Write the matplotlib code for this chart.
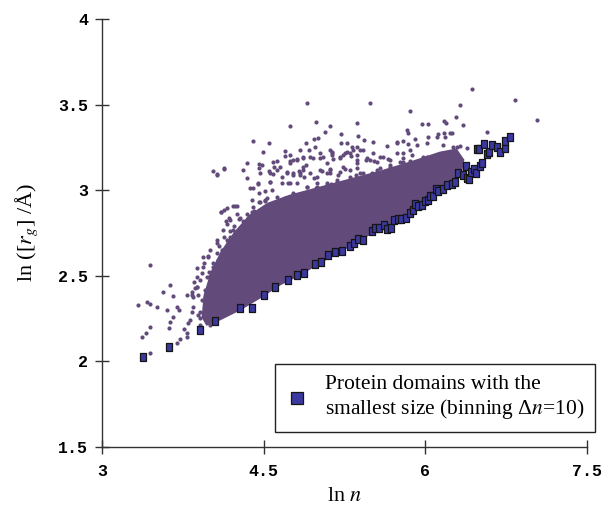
import matplotlib
matplotlib.use("Agg")
import matplotlib.pyplot as plt
from matplotlib.lines import Line2D

plt.rcParams['mathtext.fontset'] = 'stix'

# smallest domain per size bin (binning dn = 10)
bin_ln_n = [3.378, 3.624, 3.912, 4.046, 4.283, 4.389, 4.500, 4.602, 4.723, 4.806,
            4.871, 4.979, 5.029, 5.094, 5.162, 5.231, 5.301, 5.338, 5.375, 5.422,
            5.505, 5.530, 5.567, 5.614, 5.644, 5.684, 5.709, 5.749, 5.777, 5.818,
            5.858, 5.883, 5.904, 5.929, 5.966, 5.997, 6.022, 6.046, 6.071, 6.096,
            6.117, 6.161, 6.201, 6.247, 6.272, 6.306, 6.349, 6.374, 6.384, 6.408,
            6.424, 6.451, 6.467, 6.504, 6.529, 6.477, 6.498, 6.547, 6.569, 6.591,
            6.618, 6.665, 6.693, 6.736, 6.742, 6.786]
bin_ln_rg = [2.027, 2.082, 2.185, 2.238, 2.314, 2.314, 2.390, 2.436, 2.475, 2.506,
             2.518, 2.571, 2.582, 2.619, 2.639, 2.645, 2.676, 2.692, 2.715, 2.709,
             2.762, 2.779, 2.777, 2.795, 2.773, 2.781, 2.828, 2.830, 2.834, 2.839,
             2.865, 2.883, 2.921, 2.908, 2.912, 2.939, 2.943, 2.964, 2.968, 3.007,
             2.995, 3.009, 3.030, 3.034, 3.048, 3.102, 3.089, 3.141, 3.073, 3.064,
             3.108, 3.124, 3.102, 3.143, 3.157, 3.241, 3.241, 3.270, 3.211, 3.225,
             3.264, 3.254, 3.225, 3.245, 3.287, 3.311]

# individual domains outside the solid core
dom_ln_n = [4.899, 4.744, 4.988, 5.118, 5.369, 5.066, 5.007, 4.970, 5.217, 4.401,
            4.549, 4.890, 5.217, 5.270, 4.491, 4.695, 4.921, 5.137, 5.270, 5.369,
            4.027, 4.064, 4.132, 4.308, 4.348, 4.348, 4.454, 4.487, 4.454, 4.549,
            4.599, 4.621, 4.695, 4.747, 4.809, 4.862, 4.890, 5.020, 4.958, 5.085,
            5.146, 5.208, 5.307, 5.255, 5.115, 5.044, 4.828, 4.716, 4.587, 4.667,
            4.769, 4.871, 4.964, 5.190, 5.357, 4.398, 4.454, 4.515, 4.577, 4.806,
            4.985, 5.122, 5.282, 4.218, 4.250, 4.101, 4.135, 4.181, 4.150, 4.222,
            4.271, 4.345, 4.413, 4.454, 4.515, 4.589, 4.355, 4.290, 4.190, 4.132,
            4.166, 4.088, 3.986, 3.445, 3.949, 3.879, 3.925, 4.002,
            6.433, 6.832, 5.489, 6.319, 5.855, 7.033, 6.284, 6.176, 6.192, 5.966,
            6.022, 6.349, 5.827, 5.836, 6.569, 5.372, 6.120, 6.176, 6.245, 6.027,
            6.185, 5.901, 5.428, 5.517, 5.734, 5.795, 5.842, 6.013, 5.641, 5.925,
            6.259, 6.322, 6.384, 5.424, 5.326, 5.255, 5.579, 5.656, 5.795, 5.873,
            6.013, 5.134, 5.363, 5.449, 5.526, 5.765, 5.858, 5.981, 6.043, 5.363,
            5.579, 5.672, 5.935, 5.394, 5.505, 5.610, 5.753,
            3.631, 3.569, 3.662, 3.337, 3.415, 3.445, 3.508, 3.600, 3.693, 3.714,
            3.631, 3.662, 3.624, 3.445, 3.408, 3.374, 3.445, 3.693, 3.724, 3.786,
            3.791, 3.761, 3.801, 3.816, 3.909, 3.909, 3.847, 3.786, 3.832, 3.879,
            3.856, 3.909, 3.996, 4.033, 4.048, 3.971, 4.002, 3.909, 4.002,
            4.559, 4.450, 4.729, 4.837, 4.250, 4.357, 4.311, 4.157, 4.188, 4.064,
            4.002, 3.940, 4.033, 4.079, 4.111, 3.863, 3.893, 3.956, 3.832, 4.280,
            4.343, 4.435, 4.497, 4.404, 4.466, 4.528, 4.621, 4.714, 4.775,
            4.976, 5.317, 5.734, 4.775, 4.868, 5.053, 5.131, 5.239, 5.363, 5.456,
            5.549, 5.672, 5.795, 5.858, 4.775, 4.868, 4.930, 5.023, 5.115, 5.208,
            5.301, 5.487, 5.610, 5.703, 4.899, 4.992, 5.085, 5.178, 5.363, 5.456,
            4.775, 4.868, 4.960, 5.053,
            4.135, 4.064, 4.589, 4.626, 4.744, 4.806, 4.868, 4.714, 4.837, 4.373,
            4.450, 4.559, 4.667, 4.744, 4.899, 4.389, 4.512, 4.621, 4.698, 4.775,
            4.868, 4.992, 5.085, 5.178, 4.101, 4.157, 4.234, 4.188, 4.280, 4.389,
            4.466, 4.559, 4.125, 4.218, 4.311, 4.373, 4.497, 4.064, 4.157, 4.250,
            4.343, 3.986, 4.064, 4.125, 4.218, 3.940, 4.033, 4.095, 3.879, 3.971,
            4.048, 3.879, 3.956, 4.002, 3.847, 3.925, 3.832, 3.893, 3.956,
            6.105, 6.229, 6.167, 6.291, 5.981, 6.043, 5.795, 5.672, 5.549, 5.424,
            5.301, 5.858, 5.734, 5.610, 5.487, 5.363, 5.239, 5.115, 6.229,
            4.744, 4.837, 4.930, 5.023, 5.115, 5.208, 5.301, 5.394, 5.517, 4.559,
            4.466, 4.992, 5.085, 4.651]
dom_ln_rg = [3.508, 3.375, 3.398, 3.375, 3.391, 3.340, 3.303, 3.297, 3.330, 3.287,
             3.274, 3.277, 3.274, 3.274, 3.225, 3.229, 3.235, 3.223, 3.225, 3.254,
             3.114, 3.091, 3.126, 3.118, 3.071, 3.159, 3.153, 3.145, 3.128, 3.114,
             3.134, 3.172, 3.200, 3.172, 3.180, 3.186, 3.147, 3.190, 3.186, 3.161,
             3.184, 3.190, 3.200, 3.122, 3.122, 3.114, 3.114, 3.108, 3.095, 3.077,
             3.089, 3.079, 3.071, 3.089, 3.089, 3.011, 2.982, 2.995, 3.001, 3.040,
             3.015, 3.036, 3.040, 2.908, 2.908, 2.871, 2.884, 2.839, 2.822, 2.793,
             2.830, 2.859, 2.879, 2.929, 2.939, 2.924, 2.795, 2.762, 2.728, 2.728,
             2.690, 2.676, 2.617, 2.563, 2.573, 2.544, 2.518, 2.501,
             3.591, 3.527, 3.508, 3.496, 3.461, 3.410, 3.426, 3.406, 3.391, 3.387,
             3.385, 3.381, 3.352, 3.332, 3.342, 3.317, 3.327, 3.336, 3.336, 3.313,
             3.309, 3.297, 3.293, 3.280, 3.283, 3.286, 3.270, 3.274, 3.260, 3.264,
             3.254, 3.258, 3.245, 3.235, 3.235, 3.216, 3.196, 3.181, 3.216, 3.206,
             3.196, 3.206, 3.176, 3.175, 3.169, 3.167, 3.172, 3.167, 3.161, 3.128,
             3.131, 3.145, 3.134, 3.099, 3.102, 3.089, 3.114,
             2.446, 2.407, 2.382, 2.330, 2.345, 2.335, 2.316, 2.300, 2.320, 2.300,
             2.228, 2.261, 2.193, 2.199, 2.168, 2.144, 2.051, 2.106, 2.130, 2.141,
             2.168, 2.188, 2.223, 2.242, 2.252, 2.290, 2.320, 2.388, 2.407, 2.436,
             2.466, 2.475, 2.520, 2.497, 2.458, 2.359, 2.310, 2.213, 2.213,
             3.050, 3.036, 3.040, 3.089, 2.859, 2.840, 2.820, 2.801, 2.763, 2.690,
             2.651, 2.612, 2.553, 2.592, 2.651, 2.428, 2.389, 2.379, 2.389, 2.748,
             2.777, 2.797, 2.826, 2.904, 2.933, 2.953, 2.924, 2.953, 2.972,
             3.254, 3.251, 3.274, 3.176, 3.196, 3.196, 3.216, 3.206, 3.206, 3.186,
             3.167, 3.176, 3.186, 3.157, 3.099, 3.118, 3.099, 3.118, 3.099, 3.108,
             3.118, 3.079, 3.099, 3.108, 3.020, 3.040, 3.030, 3.050, 3.050, 3.060,
             2.982, 2.953, 2.982, 2.991,
             3.128, 3.093, 3.166, 3.118, 3.157, 3.176, 3.137, 3.099, 3.099, 3.011,
             3.040, 3.050, 3.040, 3.040, 3.020, 2.943, 2.943, 2.962, 2.953, 2.962,
             2.982, 3.020, 3.040, 3.060, 2.874, 2.894, 2.908, 2.826, 2.836, 2.874,
             2.884, 2.894, 2.768, 2.768, 2.777, 2.807, 2.826, 2.709, 2.709, 2.728,
             2.748, 2.612, 2.632, 2.651, 2.670, 2.553, 2.573, 2.582, 2.495, 2.495,
             2.515, 2.436, 2.417, 2.456, 2.378, 2.359, 2.290, 2.271, 2.261,
             3.313, 3.332, 3.264, 3.254, 3.196, 3.157, 3.167, 3.137, 3.118, 3.099,
             3.079, 3.235, 3.216, 3.196, 3.176, 3.157, 3.137, 3.118, 3.225,
             3.206, 3.235, 3.196, 3.216, 3.235, 3.196, 3.216, 3.235, 3.216, 3.099,
             3.099, 3.079, 3.099, 3.137]

# outline of the region where the domains overlap into a solid mass
core_ln_n = [3.974, 3.937, 3.956, 4.021, 4.113, 4.234, 4.373, 4.540, 4.744, 5.023,
             5.301, 5.579, 5.858, 6.136, 6.284, 6.349, 6.322, 6.136, 5.950, 5.765,
             5.579, 5.394, 5.208, 5.023, 4.837, 4.651, 4.466, 4.280, 4.095]
core_ln_rg = [2.218, 2.259, 2.388, 2.522, 2.639, 2.750, 2.849, 2.919, 2.966, 3.013,
              3.060, 3.106, 3.159, 3.217, 3.235, 3.176, 3.089, 3.007, 2.925, 2.838,
              2.779, 2.715, 2.645, 2.581, 2.510, 2.452, 2.376, 2.306, 2.248]

x_ticks = [3, 4.5, 6, 7.5]
x_tick_labels = ['3', '4.5', '6', '7.5']
y_ticks = [1.5, 2, 2.5, 3, 3.5, 4]
y_tick_labels = ['1.5', '2', '2.5', '3', '3.5', '4']

purple = '#624a7b'
box_fill = '#3b38a0'
serif = 'Liberation Serif'
mono = 'Liberation Mono'

fig = plt.figure(figsize=(6.13, 5.08), dpi=100)
ax = fig.add_axes([0.1664, 0.1201, 0.7912, 0.8425])

ax.fill(core_ln_n, core_ln_rg, color=purple, ec=purple, lw=2.0, zorder=2)
ax.scatter(dom_ln_n, dom_ln_rg, s=9, color=purple, lw=0, zorder=2)

rect = [(-0.7, -1), (0.7, -1), (0.7, 1), (-0.7, 1), (-0.7, -1)]
ax.scatter(bin_ln_n, bin_ln_rg, marker=rect, s=34, facecolor=box_fill,
           edgecolor='#151515', lw=0.9, zorder=3)

ax.set_xlim(3, 7.5)
ax.set_ylim(1.5, 4)
for side in ['top', 'right']:
    ax.spines[side].set_visible(False)
for side in ['left', 'bottom']:
    ax.spines[side].set_color('#333333')
    ax.spines[side].set_linewidth(1.0)

ax.set_xticks(x_ticks)
ax.set_xticklabels(x_tick_labels, family=mono, weight='bold', fontsize=12)
ax.set_yticks(y_ticks)
ax.set_yticklabels(y_tick_labels, family=mono, weight='bold', fontsize=12)
ax.tick_params(direction='inout', length=10, width=1, color='#333333')
ax.tick_params(axis='y', pad=5)
ax.tick_params(axis='x', pad=7)

ax.set_xlabel('ln $n$', family=serif, fontsize=16, labelpad=6)
ax.set_ylabel('ln ([$r_g$] /Å)', family=serif, fontsize=16, labelpad=13)

handle = Line2D([], [], marker='s', ls='none', ms=8, mfc=box_fill, mec='#151515', mew=0.9)
leg = ax.legend([handle], ['Protein domains with the\nsmallest size (binning Δ$n$=10)'],
                loc='lower right', bbox_to_anchor=(1.0165, 0.035), borderaxespad=0,
                prop={'family': serif, 'size': 15.5}, fancybox=False, framealpha=1,
                edgecolor='#222222', handletextpad=0.8, borderpad=0.5,
                handlelength=1.0, labelspacing=0.2)
leg.get_frame().set_linewidth(1.0)

fig.savefig('out.png', dpi=100)
